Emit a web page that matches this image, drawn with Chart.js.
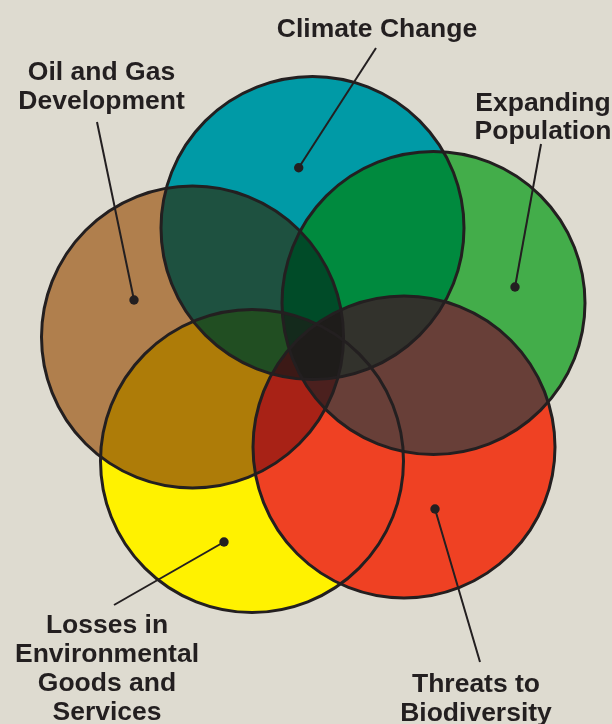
<!DOCTYPE html>
<html>
<head>
<meta charset="utf-8">
<script src="https://cdn.jsdelivr.net/npm/chart.js@4/dist/chart.umd.min.js"></script>
<style>
  html, body { margin: 0; padding: 0; background: #dedbd0; }
  #wrap { width: 612px; height: 724px; }
  canvas { display: block; }
</style>
</head>
<body>
<div id="wrap"><canvas id="c" width="612" height="724"></canvas></div>
<script>
// ---- Data (diagram units: x 0..612, y 0..724 measured downward) ----
const categories = ['Climate Change', 'Expanding Population', 'Oil and Gas Development',
                    'Losses in Environmental Goods and Services', 'Threats to Biodiversity'];
const labelLines = [['Climate Change'], ['Expanding', 'Population'], ['Oil and Gas', 'Development'],
                    ['Losses in', 'Environmental', 'Goods and', 'Services'], ['Threats to', 'Biodiversity']];
const centerX = [312.5, 433.5, 192.5, 252, 404];
const centerY = [228, 303, 337, 461, 447];
const radius = [151.5, 151.5, 151, 151.5, 151];
const dotX = [298.7, 515, 134, 224, 435];
const dotY = [167.7, 287, 300, 542, 509];
const leaderEndX = [376, 541, 97, 114, 480];
const leaderEndY = [48, 144, 122, 605, 662];
const labelX = [377, 543, 101.5, 107, 476];
const labelFirstBaseline = [36.5, 111, 80, 633, 692];
const labelLineGap = [0, 27.5, 28.5, 29, 28.5];

// ---- Styles ----
const circleColors = ['#009aa6', '#43ad4a', '#b07f4d', '#fff200', '#ef4123'];
// overlap colours (bitmask: 1 Climate, 2 Population, 4 Oil&Gas, 8 Losses, 16 Threats)
const overlapColors = {
  3: '#008a3e', 5: '#1e5140', 7: '#004b28', 9: '#214e22', 12: '#ae7c08', 13: '#214e22',
  17: '#32322c', 18: '#683f38', 19: '#32322c', 20: '#a82216', 24: '#ef4123', 26: '#683f38',
  27: '#32322c', 28: '#a82216', 29: '#3c1916', 30: '#4b201e', 31: '#1e1c1a', 15: '#142a1c',
  23: '#1e1c1a', 25: '#3c1916', 21: '#3c1916', 22: '#4b201e', 11: '#0a5a30', 14: '#1e3a20',
  6: '#004b28', 10: '#43a000'
};
const ink = '#231f20';
const FONT = 'bold 26.5px "Liberation Sans", Arial, Helvetica, sans-serif';

function hexToRgb(h) { const n = parseInt(h.slice(1), 16); return [(n >> 16) & 255, (n >> 8) & 255, n & 255]; }
function multiplyColor(mask) {
  let c = [255, 255, 255];
  for (let i = 0; i < 5; i++) if (mask & (1 << i)) {
    const k = hexToRgb(circleColors[i]);
    c = c.map((v, j) => v * k[j] / 255);
  }
  return 'rgb(' + c.map(Math.round).join(',') + ')';
}
function popcount(m) { let n = 0; while (m) { n += m & 1; m >>= 1; } return n; }

const pts = centerX.map((x, i) => ({ x, y: centerY[i], r: radius[i] }));
function pxRadius(ctx) {
  const s = ctx.chart.scales.x;
  const raw = ctx.raw;
  if (!raw || !s) return 0;
  const v = Math.abs(s.getPixelForValue(raw.r) - s.getPixelForValue(0));
  return isFinite(v) ? v : 0;
}

const leaderSets = categories.map((name, i) => ({
  type: 'scatter',
  label: name + ' leader',
  data: [{ x: dotX[i], y: dotY[i] }, { x: leaderEndX[i], y: leaderEndY[i] }],
  showLine: true,
  borderColor: ink,
  borderWidth: 2,
  pointRadius: (c) => c.dataIndex === 0 ? 4.7 : 0,
  pointBackgroundColor: ink,
  pointBorderWidth: 0,
  order: 0
}));

const FILL_INDEX = leaderSets.length + 1;

const datasets = [
  ...leaderSets,
  { type: 'scatter', label: 'outlines', data: pts, pointRadius: pxRadius,
    pointBackgroundColor: 'rgba(0,0,0,0)', pointBorderColor: ink, pointBorderWidth: 3, order: 1 },
  { type: 'scatter', label: 'fills', data: pts, pointRadius: pxRadius,
    pointBackgroundColor: circleColors, pointBorderWidth: 0, order: 2 }
];

const overlapPlugin = {
  id: 'overlaps',
  afterDatasetDraw(chart, args) {
    if (args.index !== FILL_INDEX) return;
    const els = args.meta.data;
    const ctx = chart.ctx;
    const masks = [];
    for (let m = 1; m < 32; m++) if (popcount(m) >= 2) masks.push(m);
    masks.sort((a, b) => popcount(a) - popcount(b));
    masks.forEach(m => {
      ctx.save();
      for (let i = 0; i < 5; i++) if (m & (1 << i)) {
        const el = els[i];
        ctx.beginPath();
        ctx.arc(el.x, el.y, el.options.radius, 0, Math.PI * 2);
        ctx.clip();
      }
      ctx.fillStyle = overlapColors[m] || multiplyColor(m);
      ctx.fillRect(0, 0, chart.width, chart.height);
      ctx.restore();
    });
  }
};

const labelPlugin = {
  id: 'labels',
  afterDraw(chart) {
    const ctx = chart.ctx;
    const sx = chart.scales.x, sy = chart.scales.y;
    ctx.save();
    ctx.font = FONT;
    ctx.fillStyle = ink;
    ctx.textAlign = 'center';
    ctx.textBaseline = 'alphabetic';
    labelLines.forEach((lines, i) => {
      lines.forEach((t, j) => {
        ctx.fillText(t, sx.getPixelForValue(labelX[i]), sy.getPixelForValue(labelFirstBaseline[i] + j * labelLineGap[i]));
      });
    });
    ctx.restore();
  }
};

new Chart(document.getElementById('c'), {
  type: 'scatter',
  data: { datasets },
  options: {
    responsive: false,
    animation: false,
    events: [],
    layout: { padding: 0, autoPadding: false },
    clip: false,
    plugins: { legend: { display: false }, tooltip: { enabled: false } },
    scales: {
      x: { type: 'linear', min: 0, max: 612, display: false },
      y: { type: 'linear', min: 0, max: 724, reverse: true, display: false }
    }
  },
  plugins: [overlapPlugin, labelPlugin]
});
</script>
</body>
</html>
